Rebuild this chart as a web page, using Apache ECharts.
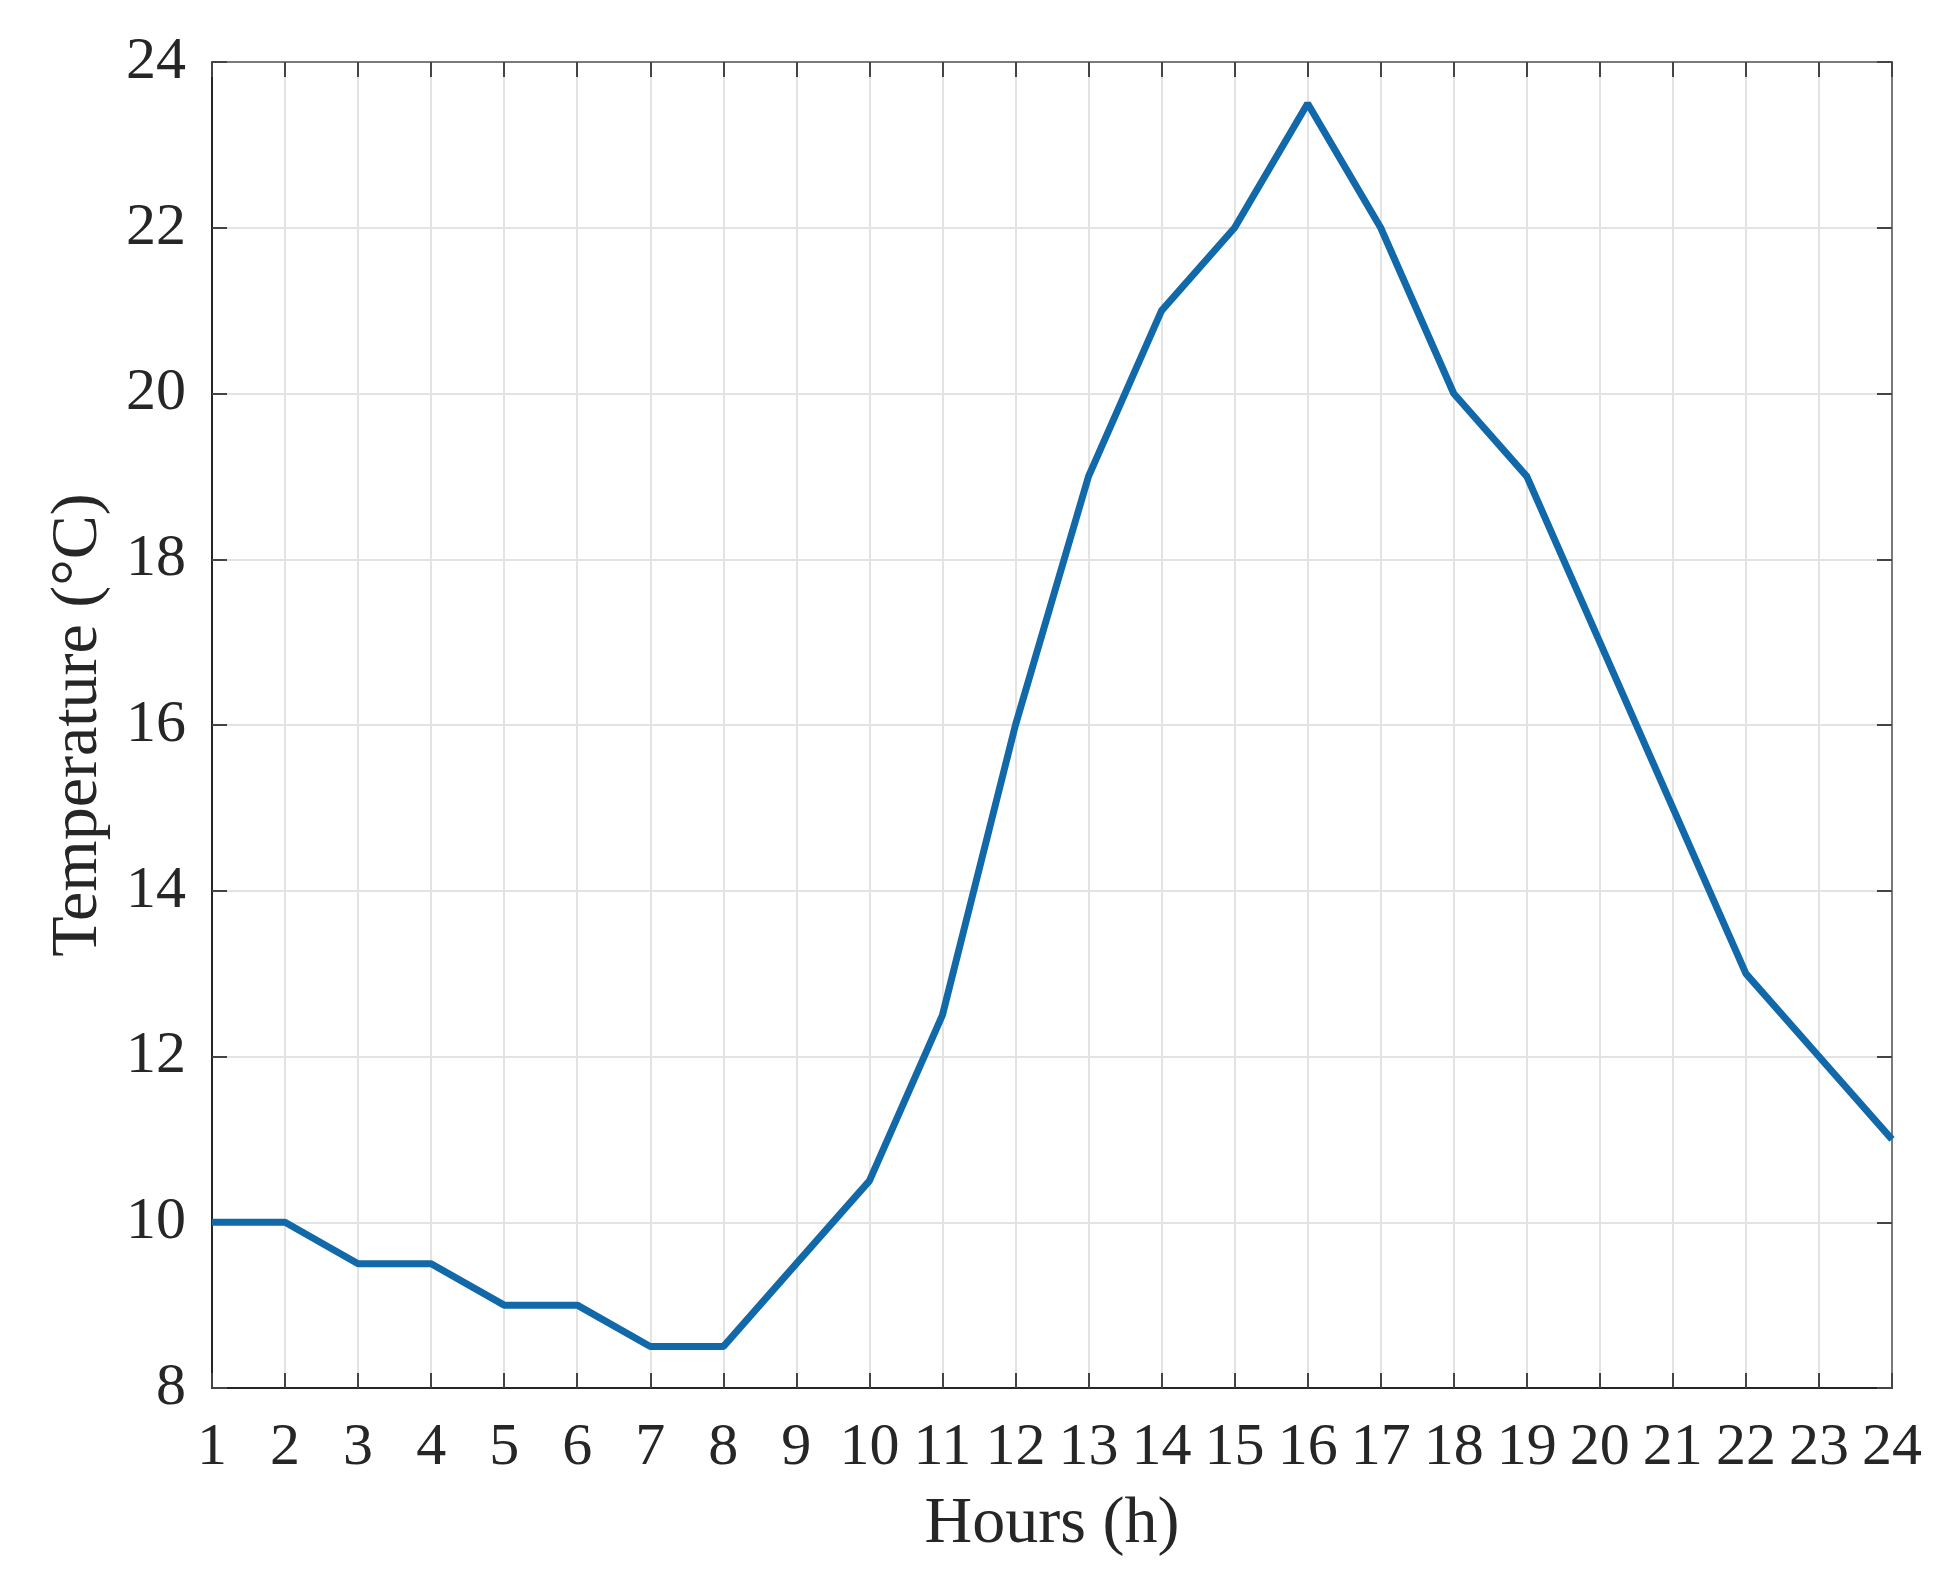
<!DOCTYPE html>
<html lang="en">
<head>
    <meta charset="UTF-8">
    <title>Temperature over 24 hours</title>
    <script src="https://cdn.jsdelivr.net/npm/echarts@6/dist/echarts.min.js"></script>
    <style>
        * { margin: 0; padding: 0; }
        html, body { background: #fff; }
        #chart { width: 1939px; height: 1582px; }
    </style>
</head>
<body>
    <div id="chart"></div>
    <script>
        // hours of the day and the temperature read at each one
        const hours = [1, 2, 3, 4, 5, 6, 7, 8, 9, 10, 11, 12, 13, 14, 15, 16, 17, 18, 19, 20, 21, 22, 23, 24];
        const temps = [10, 10, 9.5, 9.5, 9, 9, 8.5, 8.5, 9.5, 10.5, 12.5, 16, 19, 21, 22, 23.5, 22, 20, 19, 17, 15, 13, 12, 11];
        const yTicks = [8, 10, 12, 14, 16, 18, 20, 22, 24];

        const font = 'Liberation Serif';
        const textColor = '#262626';
        const gridColor = '#e3e3e3';
        const lineColor = '#1169a9';

        const chart = echarts.init(document.getElementById('chart'), null, { renderer: 'canvas' });

        const xBase = {
            type: 'value',
            min: hours[0],
            max: hours[hours.length - 1],
            interval: 1
        };
        const yBase = {
            type: 'value',
            min: yTicks[0],
            max: yTicks[yTicks.length - 1],
            interval: yTicks[1] - yTicks[0]
        };

        chart.setOption({
            animation: false,
            backgroundColor: '#fff',
            grid: { left: 212, right: 47, top: 62, bottom: 194 },
            xAxis: [
                Object.assign({}, xBase, {
                    position: 'bottom',
                    name: 'Hours (h)',
                    nameLocation: 'middle',
                    nameGap: 104,
                    nameTextStyle: { fontFamily: font, fontSize: 66, color: textColor },
                    axisLine: { lineStyle: { color: '#262626', width: 2 } },
                    axisTick: { inside: true, length: 15, lineStyle: { color: '#444', width: 2 } },
                    axisLabel: { margin: 30, fontFamily: font, fontSize: 60, color: textColor },
                    splitLine: { show: true, lineStyle: { color: gridColor, width: 2 } }
                }),
                Object.assign({}, xBase, {
                    position: 'top',
                    axisLine: { lineStyle: { color: '#7a7a7a', width: 2 } },
                    axisTick: { inside: true, length: 15, lineStyle: { color: '#444', width: 2 } },
                    axisLabel: { show: false },
                    splitLine: { show: false }
                })
            ],
            yAxis: [
                Object.assign({}, yBase, {
                    position: 'left',
                    name: 'Temperature (°C)',
                    nameLocation: 'middle',
                    nameGap: 100,
                    nameRotate: 90,
                    nameTextStyle: { fontFamily: font, fontSize: 66, color: textColor },
                    axisLine: { show: true, lineStyle: { color: '#262626', width: 2 } },
                    axisTick: { show: true, inside: true, length: 15, lineStyle: { color: '#444', width: 2 } },
                    axisLabel: { margin: 26, fontFamily: font, fontSize: 60, color: textColor },
                    splitLine: { show: true, lineStyle: { color: gridColor, width: 2 } }
                }),
                Object.assign({}, yBase, {
                    position: 'right',
                    axisLine: { show: true, lineStyle: { color: '#7a7a7a', width: 2 } },
                    axisTick: { show: true, inside: true, length: 15, lineStyle: { color: '#444', width: 2 } },
                    axisLabel: { show: false },
                    splitLine: { show: false }
                })
            ],
            series: [{
                type: 'line',
                xAxisIndex: 0,
                yAxisIndex: 0,
                data: hours.map((h, i) => [h, temps[i]]),
                showSymbol: false,
                lineStyle: { color: lineColor, width: 7 },
                itemStyle: { color: lineColor }
            }]
        });
    </script>
</body>
</html>
